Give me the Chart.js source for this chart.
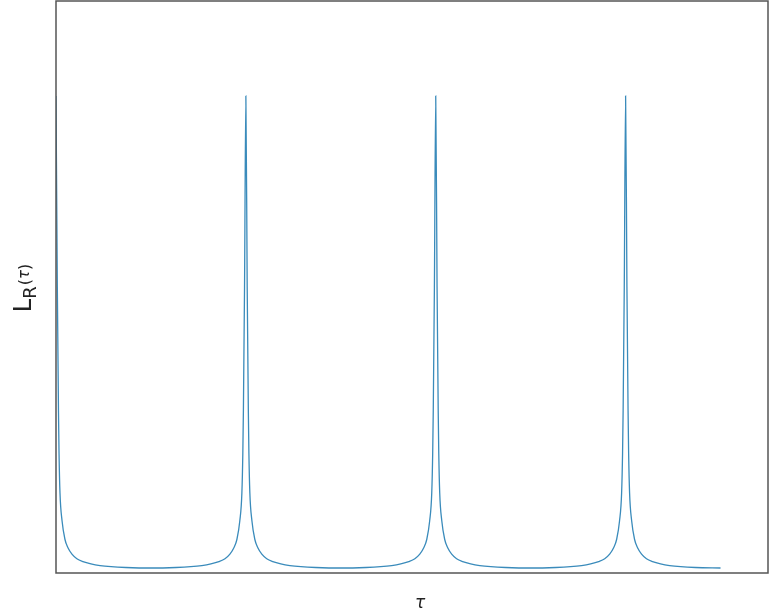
<!DOCTYPE html>
<html>
<head>
<meta charset="utf-8">
<script src="https://cdn.jsdelivr.net/npm/chart.js@4.4.0/dist/chart.umd.min.js"></script>
<style>
  html, body { margin: 0; padding: 0; background: #fff; }
  #wrap { width: 770px; height: 616px; }
</style>
</head>
<body>
<div id="wrap"><canvas id="chart" width="770" height="616"></canvas></div>
<script>
// tau positions (one period = 1)
const tau = [
  0, 0.007, 0.013, 0.016, 0.021, 0.032, 0.047, 0.063, 0.084, 0.110, 0.142, 0.184, 0.232, 0.290, 0.368, 0.500,
  0.632, 0.710, 0.768, 0.816, 0.858, 0.890, 0.916, 0.937, 0.953, 0.968, 0.979, 0.984, 0.987, 0.993, 1.000,
  1.007, 1.013, 1.016, 1.021, 1.032, 1.047, 1.063, 1.084, 1.110, 1.142, 1.184, 1.232, 1.290, 1.368, 1.500,
  1.632, 1.710, 1.768, 1.816, 1.858, 1.890, 1.916, 1.937, 1.953, 1.968, 1.979, 1.984, 1.987, 1.993, 2.000,
  2.007, 2.013, 2.016, 2.021, 2.032, 2.047, 2.063, 2.084, 2.110, 2.142, 2.184, 2.232, 2.290, 2.368, 2.500,
  2.632, 2.710, 2.768, 2.816, 2.858, 2.890, 2.916, 2.937, 2.953, 2.968, 2.979, 2.984, 2.987, 2.993, 3.000,
  3.007, 3.013, 3.016, 3.021, 3.032, 3.047, 3.063, 3.084, 3.110, 3.142, 3.184, 3.232, 3.290, 3.368, 3.500
];

// L_R(tau) values, arbitrary units (axis 0..100)
const lR = [
  83.4, 50.0, 28.4, 20.9, 14.0, 9.1, 5.9, 4.4, 3.3, 2.5, 2.0, 1.6, 1.3, 1.1, 0.96, 0.87,
  0.96, 1.1, 1.3, 1.6, 2.0, 2.5, 3.3, 4.4, 5.9, 9.1, 14.0, 20.9, 28.4, 50.0, 83.4,
  50.0, 28.4, 20.9, 14.0, 9.1, 5.9, 4.4, 3.3, 2.5, 2.0, 1.6, 1.3, 1.1, 0.96, 0.87,
  0.96, 1.1, 1.3, 1.6, 2.0, 2.5, 3.3, 4.4, 5.9, 9.1, 14.0, 20.9, 28.4, 50.0, 83.4,
  50.0, 28.4, 20.9, 14.0, 9.1, 5.9, 4.4, 3.3, 2.5, 2.0, 1.6, 1.3, 1.1, 0.96, 0.87,
  0.96, 1.1, 1.3, 1.6, 2.0, 2.5, 3.3, 4.4, 5.9, 9.1, 14.0, 20.9, 28.4, 50.0, 83.4,
  50.0, 28.4, 20.9, 14.0, 9.1, 5.9, 4.4, 3.3, 2.5, 2.0, 1.6, 1.3, 1.1, 0.96, 0.87
];

const xRange = [0, 3.75];
const yRange = [0, 100];

// frame on all four sides + axis labels (L with subscript R)
const framePlugin = {
  id: "frame",
  afterDraw(chart) {
    const { ctx, chartArea: a } = chart;
    ctx.save();
    ctx.strokeStyle = "#555";
    ctx.lineWidth = 1.5;
    ctx.strokeRect(a.left, a.top, a.right - a.left, a.bottom - a.top);

    // y title
    ctx.fillStyle = "#222";
    ctx.translate(31, 288);
    ctx.rotate(-Math.PI / 2);
    ctx.textBaseline = "alphabetic";
    ctx.font = "24px 'DejaVu Sans'";
    const lw = ctx.measureText("L").width;
    ctx.font = "18px 'DejaVu Sans'";
    const rw = ctx.measureText("R").width;
    ctx.font = "16px 'DejaVu Sans'";
    const pw = ctx.measureText("(").width;
    ctx.font = "italic 15px 'DejaVu Sans'";
    const tw = ctx.measureText("τ").width;
    const total = lw + rw + pw * 2 + tw + 1;
    let x = -total / 2;
    ctx.font = "24px 'DejaVu Sans'";
    ctx.fillText("L", x, 0); x += lw;
    ctx.font = "18px 'DejaVu Sans'";
    ctx.fillText("R", x, 5); x += rw + 1;
    ctx.font = "16px 'DejaVu Sans'";
    ctx.fillText("(", x, -1); x += pw;
    ctx.font = "italic 15px 'DejaVu Sans'";
    ctx.fillText("τ", x, -2); x += tw;
    ctx.font = "16px 'DejaVu Sans'";
    ctx.fillText(")", x, -1);
    ctx.restore();

    // x title
    ctx.save();
    ctx.fillStyle = "#222";
    ctx.font = "italic 17px 'DejaVu Sans'";
    ctx.textAlign = "center";
    ctx.fillText("τ", 420, 608);
    ctx.restore();
  }
};

new Chart(document.getElementById("chart").getContext("2d"), {
  type: "line",
  data: {
    datasets: [{
      data: tau.map((t, i) => ({ x: t, y: lR[i] })),
      borderColor: "#3a8bbb",
      borderWidth: 1.3,
      pointRadius: 0,
      cubicInterpolationMode: "monotone",
      fill: false
    }]
  },
  options: {
    responsive: false,
    animation: false,
    devicePixelRatio: 1,
    layout: { padding: { left: 56, top: 1, right: 2, bottom: 43 } },
    plugins: { legend: { display: false }, tooltip: { enabled: false } },
    scales: {
      x: {
        type: "linear",
        min: xRange[0],
        max: xRange[1],
        display: false
      },
      y: {
        min: yRange[0],
        max: yRange[1],
        display: false
      }
    }
  },
  plugins: [framePlugin]
});
</script>
</body>
</html>
